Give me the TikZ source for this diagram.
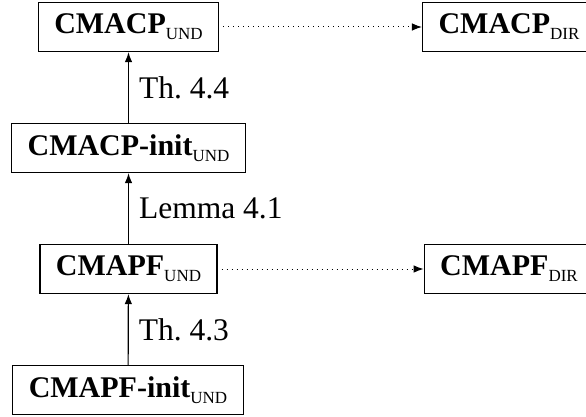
\documentclass[tikz,border=0pt]{standalone}
\usepackage{fontspec}
\setmainfont{Liberation Serif}
\usetikzlibrary{arrows.meta}

\newcommand{\lowsub}[1]{\raisebox{-6pt}{\normalfont\fontsize{17}{17}\selectfont #1}}

\begin{document}
\begin{tikzpicture}[x=1pt, y=-1pt,
  font=\fontsize{31.5}{38}\selectfont,
  box/.style = {shape=rectangle, draw, line width=1.2pt,
    minimum height=49pt, inner xsep=16pt,
    font=\fontsize{30}{36}\selectfont\bfseries},
  proof/.style = {-{Latex[length=10pt,width=7.5pt]}, line width=1.2pt},
  weak/.style = {-{Latex[length=10pt,width=7.5pt]}, line width=1pt,
    dash pattern=on 1pt off 4pt, shorten <=4pt},
  why/.style = {right=8pt, inner sep=2pt}]
  \useasboundingbox (0,0) rectangle (586,417);
  \node[box] (cmacpund) at (128.5,27) {CMACP\lowsub{UND}};
  \node[box] (cmacpdir) at (509,27) {CMACP\lowsub{DIR}};
  \node[box] (cmacpinit) at (128.5,148) {CMACP-init\lowsub{UND}};
  \node[box] (cmapfund) at (128.5,269) {CMAPF\lowsub{UND}};
  \node[box] (cmapfdir) at (509,269) {CMAPF\lowsub{DIR}};
  \node[box] (cmapfinit) at (128,390) {CMAPF-init\lowsub{UND}};
  % arrows
  \draw[proof] (cmacpinit) -- node[why] (th44) {Th.\ 4.4} (cmacpund);
  \draw[proof] (cmapfund) -- node[why] (lem41) {Lemma 4.1} (cmacpinit);
  \draw[proof] (cmapfinit) -- node[why] (th43) {Th.\ 4.3} (cmapfund);
  \draw[weak] (cmacpund) -- (cmacpdir);
  \draw[weak] (cmapfund) -- (cmapfdir);
\end{tikzpicture}
\end{document}
